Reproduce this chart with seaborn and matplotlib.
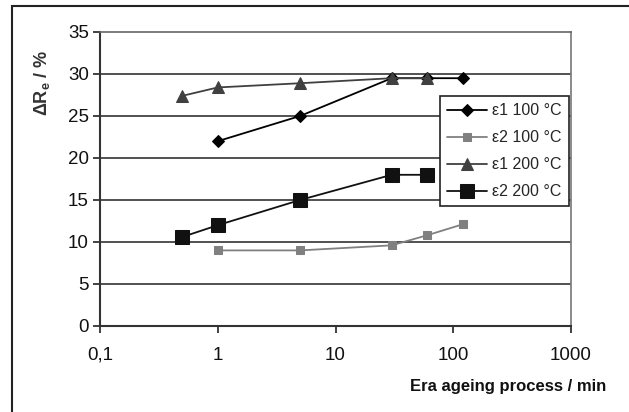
import matplotlib
matplotlib.use("Agg")
import matplotlib.pyplot as plt
import seaborn as sns
import pandas as pd
from matplotlib.patches import Rectangle
from matplotlib.ticker import FixedLocator, FixedFormatter, NullLocator

sns.set_theme(style="white")
plt.rcParams['font.family'] = ['Liberation Sans', 'DejaVu Sans']

# Data
t_e1_100 = [1, 5, 30, 60, 120]
v_e1_100 = [22.0, 25.0, 29.5, 29.5, 29.5]
t_e2_100 = [1, 5, 30, 60, 120]
v_e2_100 = [9.0, 9.0, 9.6, 10.8, 12.1]
t_e1_200 = [0.5, 1, 5, 30, 60]
v_e1_200 = [27.4, 28.4, 28.9, 29.5, 29.5]
t_e2_200 = [0.5, 1, 5, 30, 60]
v_e2_200 = [10.6, 12.0, 15.0, 18.0, 18.0]

series_labels = ["ε1 100 °C", "ε2 100 °C", "ε1 200 °C", "ε2 200 °C"]
x_ticks = [0.1, 1, 10, 100, 1000]
x_ticklabels = ["0,1", "1", "10", "100", "1000"]
y_ticks = [0, 5, 10, 15, 20, 25, 30, 35]

fig = plt.figure(figsize=(6.29, 4.12), dpi=100)
ax = fig.add_axes([100/629, 1-326/412, 471/629, 294/412])

styles = [
    dict(color="#000000", marker="D", markersize=6, lw=1.3, mec="#000000"),
    dict(color="#808080", marker="s", markersize=6, lw=1.3, mec="#808080"),
    dict(color="#404040", marker="^", markersize=8, lw=1.3, mec="#404040"),
    dict(color="#111111", marker="s", markersize=10, lw=1.3, mec="#111111"),
]
data = [(t_e1_100, v_e1_100), (t_e2_100, v_e2_100),
        (t_e1_200, v_e1_200), (t_e2_200, v_e2_200)]

for (t, v), lab, st in zip(data, series_labels, styles):
    df = pd.DataFrame({"t": t, "v": v})
    sns.lineplot(data=df, x="t", y="v", ax=ax, label=lab,
                 color=st["color"], marker=st["marker"], markersize=st["markersize"],
                 linewidth=st["lw"], markeredgecolor=st["mec"], estimator=None)

ax.set_xscale("log")
ax.set_xlim(0.1, 1000)
ax.set_ylim(0, 35)
ax.xaxis.set_major_locator(FixedLocator(x_ticks))
ax.xaxis.set_major_formatter(FixedFormatter(x_ticklabels))
ax.xaxis.set_minor_locator(NullLocator())
ax.set_yticks(y_ticks)
ax.tick_params(axis="both", which="major", direction="out", length=5, width=1.2,
               color="#222222", labelsize=13.5, labelcolor="#111111", pad=3,
               bottom=True, left=True)
ax.tick_params(axis="x", pad=10)

for y in y_ticks[1:-1]:
    ax.axhline(y, color="#333333", lw=1.2, zorder=0)

ax.spines["left"].set_color("#333333")
ax.spines["left"].set_linewidth(1.5)
ax.spines["bottom"].set_color("#333333")
ax.spines["bottom"].set_linewidth(1.5)
ax.spines["right"].set_color("#777777")
ax.spines["right"].set_linewidth(1.2)
ax.spines["top"].set_color("#666666")
ax.spines["top"].set_linewidth(1.2)

ax.set_xlabel("")
ax.set_ylabel("")
fig.text(42/629, 1-83/412, "ΔR$_\\mathregular{e}$ / %", rotation=90, ha="center", va="center",
         fontsize=13, fontweight="bold", color="#333333")
fig.text(606/629, 1-387/412, "Era ageing process / min", ha="right", va="center",
         fontsize=12, fontweight="bold", color="#111111")

leg = ax.legend(loc="upper left", bbox_to_anchor=((440-100)/471, (326-96)/294),
                frameon=True, fancybox=False, shadow=False, fontsize=11.5,
                handlelength=2.5, borderpad=0.45, labelspacing=0.75, handletextpad=0.3,
                borderaxespad=0)
leg.get_frame().set_edgecolor("#222222")
leg.get_frame().set_linewidth(1.2)
leg.get_frame().set_facecolor("white")
leg.get_frame().set_alpha(1)

fig.patches.append(Rectangle((12/629, -0.1), 1.2, (1-6/412)+0.1, transform=fig.transFigure,
                             fill=False, edgecolor="#222222", lw=1.5, figure=fig))

fig.savefig("out.png", dpi=100)
